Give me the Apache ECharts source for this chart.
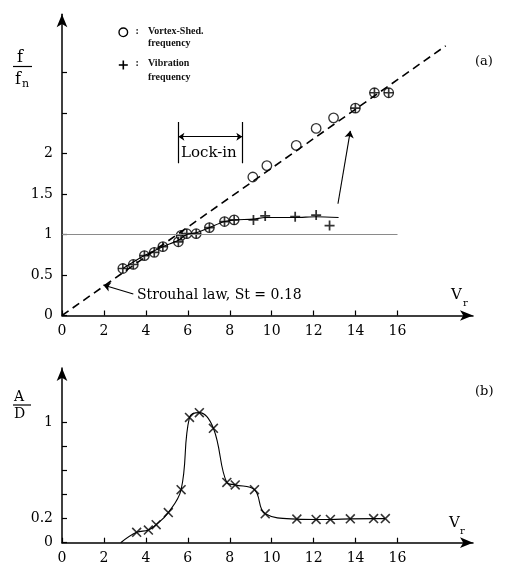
<!DOCTYPE html>
<html>
<head>
<meta charset="utf-8">
<script src="https://cdn.jsdelivr.net/npm/echarts@6/dist/echarts.min.js"></script>
<style>
html,body{margin:0;padding:0;background:#fff;}
#chart{width:507px;height:572px;}
</style>
</head>
<body>
<div id="chart"></div>
<script>
// ---- data ----
const xTicks = [0, 2, 4, 6, 8, 10, 12, 14, 16];
const freqTicks = [0, 0.5, 1, 1.5, 2, 2.5, 3];
const freqLabels = [0, 0.5, 1, 1.5, 2];
const ampTicks = [0, 0.2, 0.4, 0.6, 0.8, 1];
const ampLabels = [0, 0.2, 1];

// Strouhal law f/fn = 0.18 Vr
const strouhalLine = [[0, 0], [18.3, 3.33]];
const naturalFreqLine = [[0, 1], [16, 1]];

// vortex-shedding only (open circles)
const vortexOnly = [[9.1, 1.71], [9.77, 1.85], [11.17, 2.10], [12.12, 2.31], [12.95, 2.44]];
// vortex-shedding = vibration (circle with plus)
const lockedBoth = [[2.9, 0.58], [3.4, 0.63], [3.93, 0.74], [4.4, 0.78], [4.81, 0.85],
  [5.55, 0.91], [5.68, 0.99], [5.95, 1.01], [6.4, 1.01], [7.03, 1.085], [7.75, 1.16], [8.21, 1.18],
  [13.99, 2.56], [14.9, 2.75], [15.58, 2.75]];
// vibration only (plus)
const vibrationOnly = [[9.13, 1.18], [9.69, 1.23], [11.12, 1.22], [12.12, 1.24], [12.76, 1.11]];
// vibration frequency curve
const vibrationCurve = [[2.9, 0.58], [3.93, 0.74], [4.81, 0.85], [5.55, 0.93], [5.95, 1.0], [6.4, 1.02],
  [7.03, 1.085], [7.75, 1.16], [8.21, 1.18], [9.13, 1.19], [9.69, 1.21], [11.12, 1.21], [12.12, 1.22], [13.19, 1.21]];

// amplitude A/D
const amplitude = [[3.56, 0.086], [4.12, 0.105], [4.49, 0.15], [5.07, 0.25], [5.68, 0.44], [6.08, 1.04],
  [6.55, 1.08], [7.22, 0.95], [7.86, 0.50], [8.26, 0.48], [9.18, 0.44], [9.69, 0.24], [11.2, 0.196],
  [12.12, 0.193], [12.8, 0.193], [13.75, 0.198], [14.86, 0.2], [15.42, 0.2]];
const amplitudeCurve = [[2.8, 0]].concat(amplitude);

// annotations (data coordinates)
const jumpArrow = [[13.16, 1.38], [13.75, 2.28]];
const strouhalPointer = [[3.4, 0.265], [1.97, 0.377]];
const lockInArrow = [[5.55, 2.207], [8.6, 2.207]];
const lockInBars = [[[5.55, 2.39], [5.55, 1.88]], [[8.6, 2.39], [8.6, 1.88]]];

// ---- styling ----
const FONT = 'DejaVu Serif';
const PLUS = 'path://M0,3.3h8v1.4h-8z M3.3,0h1.4v8h-1.4z';
const CROSS = 'path://M0,0.9L0.9,0L8,7.1L7.1,8Z M7.1,0L8,0.9L0.9,8L0,7.1Z';

function xAxis(grid) {
  return {
    type: 'value', gridIndex: grid, min: 0, max: 19.6,
    axisLine: {show: true, symbol: ['none', 'arrow'], symbolSize: [8, 13], lineStyle: {color: '#000', width: 1.5}},
    axisTick: {show: true, inside: true, length: 5, customValues: xTicks, lineStyle: {color: '#000', width: 1.2}},
    axisLabel: {customValues: xTicks, fontFamily: FONT, fontSize: 14, color: '#000', margin: 9},
    splitLine: {show: false}
  };
}
function yAxis(grid, max, ticks, labels) {
  return {
    type: 'value', gridIndex: grid, min: 0, max: max,
    axisLine: {show: true, symbol: ['none', 'arrow'], symbolSize: [8, 13], lineStyle: {color: '#000', width: 1.5}},
    axisTick: {show: true, inside: true, length: 5, customValues: ticks, lineStyle: {color: '#000', width: 1.2}},
    axisLabel: {customValues: labels, fontFamily: FONT, fontSize: 14, color: '#000', margin: 9},
    splitLine: {show: false}
  };
}

const txt = (x, y, s, size) => ({
  type: 'text', x: x, y: y,
  style: {text: s, font: size + 'px "' + FONT + '"', fill: '#000', textVerticalAlign: 'middle', textAlign: 'left'}
});
const legTxt = (x, y, s) => ({type: 'text', x: x, y: y,
  style: {text: s, font: 'bold 10px "Liberation Serif"', fill: '#111', textVerticalAlign: 'middle'}});

const option = {
  animation: false,
  backgroundColor: '#fff',
  grid: [
    {left: 62, width: 411, top: 14.2, height: 301.3},
    {left: 62, width: 411, top: 368.1, height: 174.6}
  ],
  xAxis: [xAxis(0), xAxis(1)],
  yAxis: [yAxis(0, 3.72, freqTicks, freqLabels), yAxis(1, 1.45, ampTicks, ampLabels)],
  series: [
    {type: 'line', xAxisIndex: 0, yAxisIndex: 0, data: strouhalLine, symbol: 'none',
      lineStyle: {color: '#000', width: 1.6, type: [8, 5]}},
    {type: 'line', xAxisIndex: 0, yAxisIndex: 0, data: naturalFreqLine, symbol: 'none',
      lineStyle: {color: '#8a8a8a', width: 1.2}},
    {type: 'line', xAxisIndex: 0, yAxisIndex: 0, data: vibrationCurve, symbol: 'none', smooth: 0.3,
      lineStyle: {color: '#000', width: 1.1}},
    {type: 'scatter', name: 'Vortex-Shed. frequency', xAxisIndex: 0, yAxisIndex: 0, data: vortexOnly, symbol: 'circle', symbolSize: 9.5,
      itemStyle: {color: '#fff', borderColor: '#000', borderWidth: 1.3}},
    {type: 'scatter', name: 'Vortex-Shed. frequency', xAxisIndex: 0, yAxisIndex: 0, data: lockedBoth, symbol: 'circle', symbolSize: 9.5,
      itemStyle: {color: '#fff', borderColor: '#000', borderWidth: 1.3}},
    {type: 'scatter', name: 'Vibration frequency', xAxisIndex: 0, yAxisIndex: 0, data: lockedBoth, symbol: PLUS, symbolSize: 9.5,
      itemStyle: {color: '#000'}},
    {type: 'scatter', name: 'Vibration frequency', xAxisIndex: 0, yAxisIndex: 0, data: vibrationOnly, symbol: PLUS, symbolSize: 10,
      itemStyle: {color: '#000'}},
    {type: 'lines', coordinateSystem: 'cartesian2d', xAxisIndex: 0, yAxisIndex: 0,
      data: [{coords: jumpArrow}, {coords: strouhalPointer}],
      symbol: ['none', 'arrow'], symbolSize: 7, lineStyle: {color: '#000', width: 1.1, opacity: 1}},
    {type: 'lines', coordinateSystem: 'cartesian2d', xAxisIndex: 0, yAxisIndex: 0,
      data: [{coords: lockInArrow}],
      symbol: ['arrow', 'arrow'], symbolSize: 6, lineStyle: {color: '#000', width: 1.1, opacity: 1}},
    {type: 'lines', coordinateSystem: 'cartesian2d', xAxisIndex: 0, yAxisIndex: 0,
      data: lockInBars.map(c => ({coords: c})),
      symbol: ['none', 'none'], lineStyle: {color: '#000', width: 1.2, opacity: 1}},
    {type: 'line', xAxisIndex: 1, yAxisIndex: 1, data: amplitudeCurve, symbol: 'none', smooth: 0.4,
      lineStyle: {color: '#000', width: 1.1}},
    {type: 'scatter', xAxisIndex: 1, yAxisIndex: 1, data: amplitude, symbol: CROSS, symbolSize: 10,
      itemStyle: {color: '#000'}}
  ],
  graphic: [
    // f / f_n
    txt(17, 58, 'f', 16),
    {type: 'line', shape: {x1: 13, y1: 66.5, x2: 32, y2: 66.5}, style: {stroke: '#000', lineWidth: 1.2}},
    txt(15, 80, 'f', 16),
    txt(22, 84, 'n', 11),
    // A / D
    txt(14, 397, 'A', 14),
    {type: 'line', shape: {x1: 13, y1: 405, x2: 31, y2: 405}, style: {stroke: '#000', lineWidth: 1.2}},
    txt(14, 414, 'D', 14),
    // V_r labels
    txt(451, 295, 'V', 15),
    txt(463, 303.5, 'r', 10),
    txt(449, 523, 'V', 15),
    txt(460, 531, 'r', 10),
    // panel tags
    txt(475, 62, '(a)', 13),
    txt(475, 392, '(b)', 13),
    // annotations
    txt(137, 295, 'Strouhal law, St = 0.18', 14),
    txt(181, 153, 'Lock-in', 15),
    // legend
    {type: 'circle', shape: {cx: 123.3, cy: 32.3, r: 4.3}, style: {fill: '#fff', stroke: '#000', lineWidth: 1.4}},
    legTxt(135.5, 31.5, ':'),
    legTxt(148, 31.5, 'Vortex-Shed.'),
    legTxt(148, 43.5, 'frequency'),
    {type: 'rect', shape: {x: 118.8, y: 64.2, width: 9, height: 1.6}, style: {fill: '#000'}},
    {type: 'rect', shape: {x: 122.5, y: 60.5, width: 1.6, height: 9}, style: {fill: '#000'}},
    legTxt(135.5, 63.5, ':'),
    legTxt(148, 63.5, 'Vibration'),
    legTxt(148, 77, 'frequency')
  ]
};

const chart = echarts.init(document.getElementById('chart'), null, {renderer: 'canvas'});
chart.setOption(option);
</script>
</body>
</html>
